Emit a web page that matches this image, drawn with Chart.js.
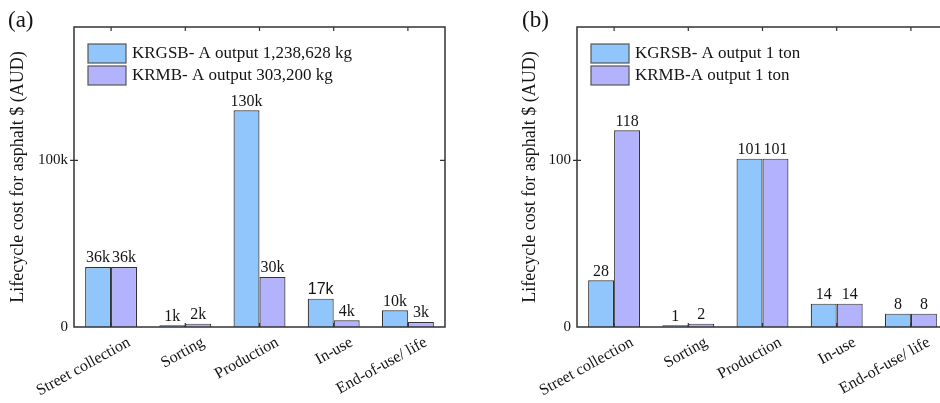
<!DOCTYPE html>
<html>
<head>
<meta charset="utf-8">
<script src="https://cdn.jsdelivr.net/npm/chart.js@4"></script>
<style>
  body { margin: 0; width: 940px; height: 403px; overflow: hidden; position: relative; background: #fff; }
  .panel { position: absolute; top: 0; height: 403px; }
</style>
</head>
<body>
<div class="panel" style="left:0;width:470px"><canvas id="ca"></canvas></div>
<div class="panel" style="left:470px;width:490px"><canvas id="cb"></canvas></div>
<script>
/* ---------- 데이터 ---------- */
const stages = ["Street collection", "Sorting", "Production", "In-use", "End-of-use/ life"];

// (a) 전체 생산량 기준
const seriesA1 = [36000, 1000, 130000, 17000, 10000];
const seriesA2 = [36000, 2000, 30000, 4000, 3000];
const legendA = ["KRGSB- A output 1,238,628 kg", "KRMB- A output 303,200 kg"];
const yTicksA = [0, 100000];

// (b) 1톤 기준
const seriesB1 = [28, 1, 101, 14, 8];
const seriesB2 = [118, 2, 101, 14, 8];
const legendB = ["KGRSB- A output 1 ton", "KRMB-A output 1 ton"];
const yTicksB = [0, 100];

const SERIF = "'Liberation Serif', 'Times New Roman', serif";
const BLUE = "#90C6FC", PURPLE = "#B3B2FC", EDGE = "#333", INK = "#141414";

/* 프레임 + 안쪽 눈금 (Origin 스타일) */
const framePlugin = {
  id: "frame",
  afterDraw(chart) {
    const { ctx, chartArea: a, scales } = chart;
    ctx.save();
    ctx.strokeStyle = "#333";
    ctx.lineWidth = 1.5;
    ctx.strokeRect(a.left, a.top, a.right - a.left, a.bottom - a.top);
    ctx.lineWidth = 1.2;
    ctx.beginPath();
    scales.x.ticks.forEach((t, i) => {
      const px = scales.x.getPixelForTick(i);
      ctx.moveTo(px, a.bottom); ctx.lineTo(px, a.bottom - 4);
      ctx.moveTo(px, a.top); ctx.lineTo(px, a.top + 4);
    });
    scales.y.ticks.forEach((t) => {
      if (t.value === 0) return;
      const py = scales.y.getPixelForValue(t.value);
      ctx.moveTo(a.left - 4, py); ctx.lineTo(a.left + 4, py);
      ctx.moveTo(a.right - 5, py); ctx.lineTo(a.right, py);
    });
    ctx.stroke();
    ctx.restore();
  },
};

/* 막대 위 값 라벨 */
const valuePlugin = {
  id: "values",
  afterDatasetsDraw(chart, args, opts) {
    const { ctx } = chart;
    ctx.save();
    ctx.fillStyle = INK;
    ctx.textAlign = "center";
    ctx.textBaseline = "bottom";
    chart.data.datasets.forEach((ds, di) => {
      chart.getDatasetMeta(di).data.forEach((bar, i) => {
        const sans = (opts.sans || []).some(([d, k]) => d === di && k === i);
        ctx.font = sans ? "16px 'Liberation Sans', Arial, sans-serif" : "16px " + SERIF;
        ctx.fillText(opts.fmt(ds.data[i]), bar.x, bar.y - 1);
      });
    });
    ctx.restore();
  },
};

/* 그래프 안쪽 범례 + 패널 기호 */
const boxLegendPlugin = {
  id: "boxLegend",
  afterDraw(chart, args, opts) {
    const { ctx, chartArea: a } = chart;
    ctx.save();
    chart.data.datasets.forEach((ds, i) => {
      const x = a.left + 14, y = a.top + 17 + i * 22;
      ctx.fillStyle = ds.backgroundColor;
      ctx.fillRect(x, y, 38, 19);
      ctx.strokeStyle = "#555";
      ctx.lineWidth = 1.2;
      ctx.strokeRect(x, y, 38, 19);
      ctx.fillStyle = INK;
      ctx.font = "17px " + SERIF;
      ctx.textBaseline = "middle";
      ctx.fillText(ds.label, x + 44, y + 10);
    });
    ctx.font = "23px " + SERIF;
    ctx.textBaseline = "alphabetic";
    ctx.fillText(opts.tag, opts.tagX, 27);
    ctx.restore();
  },
};

function makeChart(id, s1, s2, names, yTicks, cfg) {
  return new Chart(document.getElementById(id), {
    type: "bar",
    data: {
      labels: stages,
      datasets: [
        { label: names[0], data: s1, backgroundColor: BLUE, borderColor: EDGE, borderWidth: 1.2 },
        { label: names[1], data: s2, backgroundColor: PURPLE, borderColor: EDGE, borderWidth: 1.2 },
      ],
    },
    options: {
      responsive: true,
      maintainAspectRatio: false,
      animation: false,
      devicePixelRatio: 1,
      layout: { padding: { top: 27, right: cfg.padRight, bottom: 0, left: 0 } },
      datasets: { bar: { categoryPercentage: 0.7, barPercentage: 1.0 } },
      scales: {
        x: {
          grid: { display: false, drawTicks: false },
          border: { display: false },
          ticks: {
            color: INK, font: { family: SERIF, size: 16 },
            minRotation: 29, maxRotation: 29, padding: 6, labelOffset: 18,
          },
          afterFit: (s) => { s.height = 76; },
        },
        y: {
          min: 0,
          max: cfg.max,
          grid: { display: false, drawTicks: false },
          border: { display: false },
          afterBuildTicks: (s) => { s.ticks = yTicks.map((v) => ({ value: v })); },
          ticks: { color: INK, font: { family: SERIF, size: 15 }, padding: 6, callback: cfg.tickFmt },
          title: {
            display: true,
            text: "Lifecycle cost for asphalt $ (AUD)",
            color: INK,
            font: { family: SERIF, size: 18 },
            padding: { top: cfg.titlePad, bottom: 0 },
          },
          afterFit: (s) => { s.width = cfg.yWidth; },
        },
      },
      plugins: {
        legend: { display: false },
        tooltip: { enabled: false },
        values: { fmt: cfg.valFmt, sans: cfg.sans },
        boxLegend: { tag: cfg.tag, tagX: cfg.tagX },
      },
    },
    plugins: [framePlugin, valuePlugin, boxLegendPlugin],
  });
}

const kFmt = (v) => (v === 0 ? "0" : v / 1000 + "k");

makeChart("ca", seriesA1, seriesA2, legendA, yTicksA, {
  max: 180000, padRight: 25, yWidth: 74, titlePad: 7,
  tickFmt: kFmt, valFmt: kFmt, sans: [[0, 3]], tag: "(a)", tagX: 8,
});

makeChart("cb", seriesB1, seriesB2, legendB, yTicksB, {
  max: 180, padRight: 12, yWidth: 107, titlePad: 49,
  tickFmt: (v) => String(v), valFmt: (v) => String(v), sans: [], tag: "(b)", tagX: 52,
});
</script>
</body>
</html>
